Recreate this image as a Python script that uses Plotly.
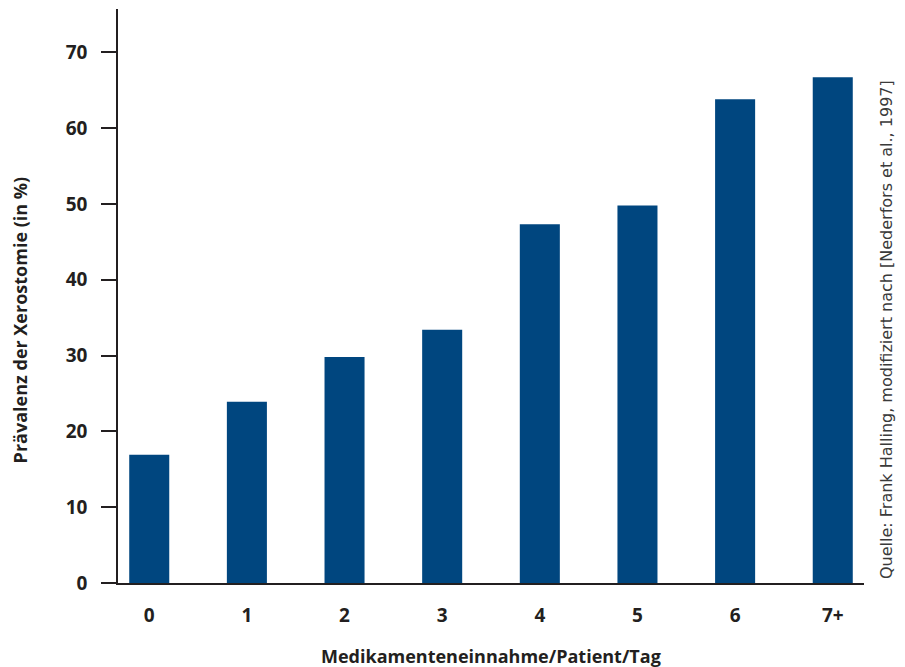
import plotly.graph_objects as go

categories = ["0", "1", "2", "3", "4", "5", "6", "7+"]
values = [16.9, 23.9, 29.8, 33.4, 47.3, 49.8, 63.8, 66.7]
y_ticks = [0, 10, 20, 30, 40, 50, 60, 70]

positions = list(range(len(categories)))
dark = "#231f20"
bold_font = "Open Sans"

fig = go.Figure()
fig.add_trace(go.Bar(
    x=positions, y=values, width=0.41,
    marker=dict(color="#00467f", line=dict(width=0)),
    hoverinfo="skip",
))

fig.update_layout(
    width=889, height=659,
    margin=dict(l=110, r=33, t=1, b=84),
    paper_bgcolor="white", plot_bgcolor="white",
    showlegend=False,
    font=dict(family=bold_font, color=dark),
    xaxis=dict(
        range=[-0.32, 7.32],
        tickmode="array", tickvals=positions, ticktext=categories,
        ticks="", showline=True, linecolor=dark, linewidth=1.5,
        showgrid=False, zeroline=False,
        tickfont=dict(family=bold_font, size=19, weight="bold", color=dark),
        ticklabelstandoff=14,
    ),
    yaxis=dict(
        range=[0, 75.7],
        tickmode="array", tickvals=y_ticks,
        ticks="outside", ticklen=15, tickwidth=1.5, tickcolor=dark,
        showline=True, linecolor=dark, linewidth=1.5,
        showgrid=False, zeroline=False,
        tickfont=dict(family=bold_font, size=19, weight="bold", color=dark),
        ticklabelstandoff=10,
    ),
    annotations=[
        dict(
            text="Medikamenteneinnahme/Patient/Tag",
            xref="paper", yref="paper", x=0.5, y=-0.127,
            xanchor="center", yanchor="middle", showarrow=False,
            font=dict(family=bold_font, size=18, weight="bold", color=dark),
        ),
        dict(
            text="Prävalenz der Xerostomie (in %)",
            xref="paper", yref="paper", x=-0.131, y=0.458,
            xanchor="center", yanchor="middle", textangle=-90, showarrow=False,
            font=dict(family=bold_font, size=18, weight="bold", color=dark),
        ),
        dict(
            text="Quelle: Frank Halling, modifiziert nach [Nederfors et al., 1997]",
            xref="paper", yref="paper", x=1.031, y=0.441,
            xanchor="center", yanchor="middle", textangle=-90, showarrow=False,
            font=dict(family="DejaVu Sans", size=16, color="#3a3a3a"),
        ),
    ],
)

fig.write_html("out.html")
